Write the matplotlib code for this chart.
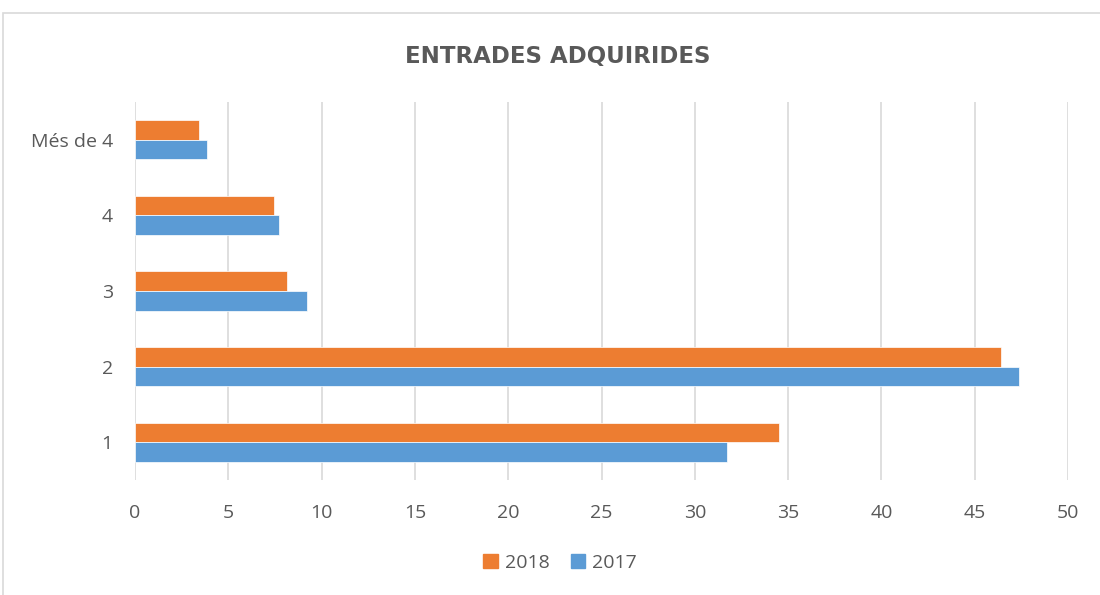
import numpy as np
import matplotlib.pyplot as plt
from matplotlib.patches import Rectangle, Patch

plt.rcParams.update({
    "font.family": ["Open Sans", "DejaVu Sans"],
    "text.color": "#595959",
    "xtick.color": "#595959",
    "ytick.color": "#595959",
})

# data
categories = ["1", "2", "3", "4", "Més de 4"]
vals_2018 = [34.5, 46.4, 8.15, 7.45, 3.45]
vals_2017 = [31.7, 47.4, 9.2, 7.7, 3.85]
xticks = [0, 5, 10, 15, 20, 25, 30, 35, 40, 45, 50]

color_2018 = "#ED7D31"
color_2017 = "#5B9BD5"

fig = plt.figure(figsize=(11, 5.95), dpi=100)
ax = fig.add_axes([135 / 1100, 1 - 480 / 595, (1068 - 135) / 1100, (480 - 102) / 595])

# light frame around the chart area
fig.patches.append(Rectangle((3 / 1100, -0.05), 1.2, 1 - 13 / 595 + 0.05,
                             transform=fig.transFigure, fill=False,
                             edgecolor="#d9d9d9", linewidth=1.2))

y = np.arange(len(categories))
h = 0.26
ax.barh(y + h / 2, vals_2018, height=h, color=color_2018, edgecolor="white", linewidth=0.5, zorder=3)
ax.barh(y - h / 2, vals_2017, height=h, color=color_2017, edgecolor="white", linewidth=0.5, zorder=3)

ax.set_xlim(0, 50)
ax.set_ylim(-0.5, len(categories) - 0.5)
ax.set_xticks(xticks)
ax.set_yticks(y)
ax.set_yticklabels(categories)
ax.tick_params(axis="x", length=0, pad=17, labelsize=14)
ax.tick_params(axis="y", length=0, pad=16, labelsize=14)
ax.grid(axis="x", color="#d9d9d9", linewidth=1.2, zorder=0)
for s in ax.spines.values():
    s.set_visible(False)

fig.text(558 / 1100, 1 - 57 / 595, "ENTRADES ADQUIRIDES", ha="center", va="center",
         fontsize=16.5, fontweight="heavy", color="#595959", family="DejaVu Sans")

handles = [Patch(color=color_2018, label="2018"), Patch(color=color_2017, label="2017")]
fig.legend(handles=handles, loc="center", bbox_to_anchor=(560 / 1100, 1 - 563 / 595),
           ncol=2, frameon=False, fontsize=14, handlelength=0.75, handleheight=0.75,
           handletextpad=0.35, columnspacing=1.1)

fig.savefig("out.png", dpi=100)
